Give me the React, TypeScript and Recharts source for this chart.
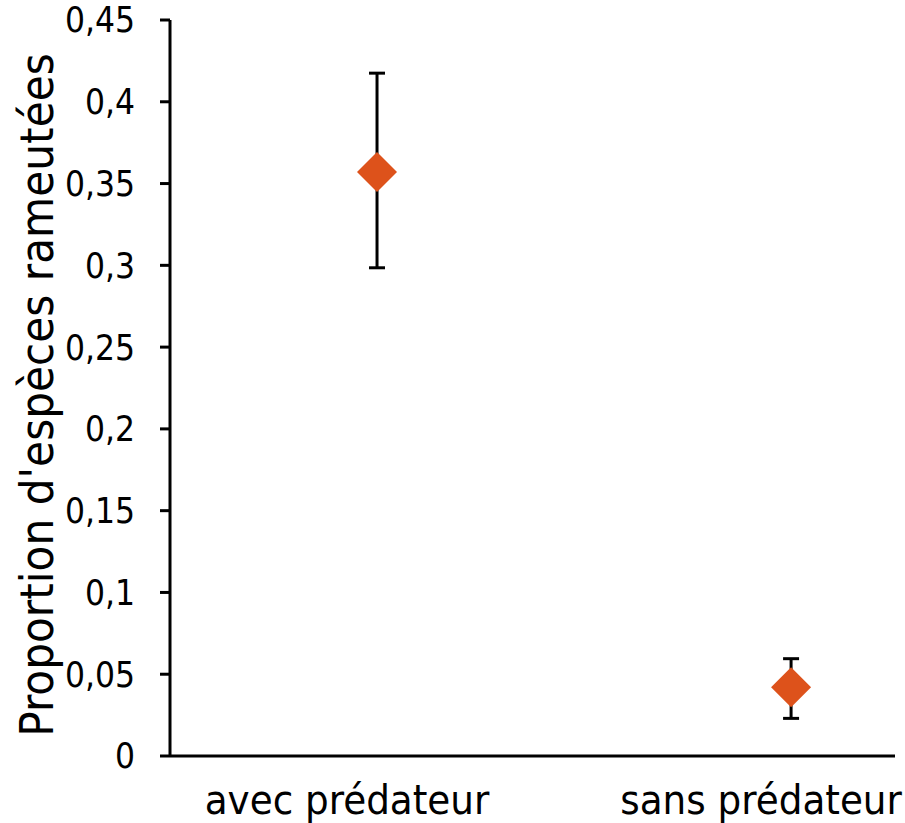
import React from "react";
import { ScatterChart, Scatter, XAxis, YAxis, ErrorBar } from "recharts";

// categories and measured values
const categories = ["avec prédateur", "sans prédateur"];
const means = [0.357, 0.042];
const errLow = [0.0585, 0.019];
const errHigh = [0.0605, 0.0175];
const yTicks = [0, 0.05, 0.1, 0.15, 0.2, 0.25, 0.3, 0.35, 0.4, 0.45];
const yTitle = "Proportion d'espèces rameutées";

const FONT = "'DejaVu Sans Condensed', 'DejaVu Sans', sans-serif";
const ORANGE = "#DD521B";

// each category sits in the middle of its slot on a numeric axis
const data = categories.map((name, i) => ({
  x: i + 0.5,
  y: means[i],
  err: [errLow[i], errHigh[i]],
  name,
}));

const Diamond = (props: any) => {
  const { cx, cy } = props;
  const r = 20;
  return (
    <polygon
      points={`${cx},${cy - r} ${cx + r},${cy} ${cx},${cy + r} ${cx - r},${cy}`}
      fill={ORANGE}
    />
  );
};

const XTick = (props: any) => {
  const { x, y, payload } = props;
  const idx = Math.round(payload.value - 0.5);
  return (
    <text
      x={x - 30}
      y={y + 50}
      textAnchor="middle"
      fontFamily={FONT}
      fontSize={41.5}
      fill="#000"
    >
      {categories[idx]}
    </text>
  );
};

const YTitle = (props: any) => {
  const { viewBox } = props;
  const cx = viewBox.x + 53;
  const cy = viewBox.y + viewBox.height / 2 + 7;
  return (
    <text
      x={cx}
      y={cy}
      transform={`rotate(-90, ${cx}, ${cy})`}
      textAnchor="middle"
      fontFamily={FONT}
      fontSize={47}
      fill="#000"
    >
      {yTitle}
    </text>
  );
};

export default function App() {
  return (
    <div style={{ position: "absolute", left: 0, top: 0, background: "#fff" }}>
      <ScatterChart
        width={905}
        height={823}
        margin={{ top: 20, right: 10, bottom: 0, left: 0 }}
      >
        <XAxis
          type="number"
          dataKey="x"
          domain={[0, 1.751]}
          ticks={[0.5, 1.5]}
          allowDataOverflow
          height={67}
          axisLine={{ stroke: "#000", strokeWidth: 3 }}
          tickLine={false}
          tick={<XTick />}
        />
        <YAxis
          type="number"
          dataKey="y"
          domain={[0, 0.45]}
          ticks={yTicks}
          interval={0}
          width={170}
          axisLine={{ stroke: "#000", strokeWidth: 3 }}
          tickLine={{ stroke: "#000", strokeWidth: 3 }}
          tickSize={10}
          tickMargin={25}
          tickFormatter={(v: number) => String(v).replace(".", ",")}
          tick={{ fontFamily: FONT, fontSize: 35, fill: "#000" }}
          label={<YTitle />}
        />
        <Scatter data={data} shape={<Diamond />} isAnimationActive={false}>
          <ErrorBar
            dataKey="err"
            direction="y"
            width={8}
            stroke="#000"
            strokeWidth={3}
            isAnimationActive={false}
          />
        </Scatter>
      </ScatterChart>
    </div>
  );
}
